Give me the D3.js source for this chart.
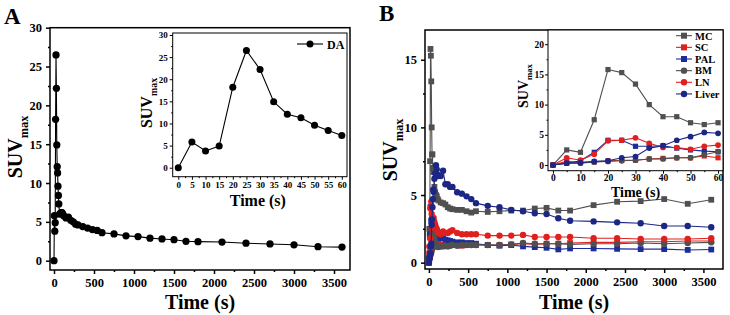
<!DOCTYPE html>
<html>
<head>
<meta charset="utf-8">
<script src="https://cdn.jsdelivr.net/npm/d3@7"></script>
<style>
  body { margin: 0; background: #fff; }
  svg text { font-family: "Liberation Serif", "Times New Roman", serif; font-weight: bold; fill: #000; }
</style>
</head>
<body>
<svg id="chart" width="730" height="315"></svg>
<script>
// sampling times (s)
const timeEarly = [0, 5, 10, 15, 20, 25, 30, 35, 40, 45, 50, 55, 60];
const timeMid = [70, 80, 90, 100, 110, 120, 150, 180, 210, 240, 270, 300, 360, 420, 480, 540, 600];
const timeLate = [750, 900, 1050, 1200, 1350, 1500, 1650, 1800, 2100, 2400, 2700, 3000, 3300, 3600];
const times = timeEarly.concat(timeMid, timeLate);

// panel A: DA
const daValues = [0, 5.8, 3.8, 4.9, 18.2, 26.5, 22.2, 14.9, 12.1, 11.3, 9.6, 8.4, 7.3,
  6.0, 6.1, 6.2, 6.2, 6.0, 5.8, 5.5, 5.6, 5.2, 5.0, 4.7, 4.6, 4.4, 4.2, 4.0, 3.9, 3.6,
  3.45, 3.2, 3.1, 2.9, 2.8, 2.7, 2.5, 2.45, 2.4, 2.25, 2.15, 2.05, 1.8, 1.75];

// panel B: tissues
const mcValues = [0, 2.5, 2.1, 7.5, 15.8, 15.3, 13.4, 10.0, 8.0, 8.0, 7.0, 6.7, 7.0,
  5.6, 5.2, 5.0, 4.9, 4.7, 4.6, 4.45, 4.4, 4.3, 4.1, 4.0, 3.95, 3.9, 3.9, 3.8, 3.7, 3.8,
  3.75, 3.8, 3.85, 3.85, 4.0, 4.05, 3.85, 3.85, 4.25, 4.5, 4.55, 4.7, 4.35, 4.65];
const scValues = [0, 0.6, 0.4, 0.5, 0.7, 0.8, 0.8, 1.0, 1.1, 1.2, 1.2, 1.5, 1.2,
  1.3, 1.45, 1.5, 1.4, 1.35, 1.4, 1.3, 1.25, 1.3, 1.3, 1.35, 1.3, 1.3, 1.25, 1.3, 1.35, 1.3,
  1.3, 1.3, 1.35, 1.4, 1.35, 1.4, 1.4, 1.45, 1.5, 1.5, 1.55, 1.55, 1.6, 1.6];
const palValues = [0, 0.3, 0.7, 2.1, 4.1, 4.1, 3.1, 3.1, 3.2, 2.8, 2.5, 2.3, 2.2,
  1.9, 1.8, 1.9, 2.0, 1.9, 1.85, 1.8, 1.8, 1.7, 1.65, 1.6, 1.55, 1.5, 1.5, 1.45, 1.45, 1.4,
  1.3, 1.25, 1.3, 1.2, 1.15, 1.1, 0.98, 1.05, 1.05, 1.02, 1.0, 1.0, 0.94, 0.97];
const bmValues = [0, 0.3, 0.3, 0.5, 0.6, 0.7, 0.8, 1.0, 1.0, 1.2, 1.2, 1.7, 2.2,
  1.8, 1.5, 1.3, 1.2, 1.2, 1.15, 1.2, 1.2, 1.25, 1.2, 1.25, 1.3, 1.25, 1.3, 1.3, 1.3, 1.3,
  1.3, 1.3, 1.35, 1.45, 1.4, 1.4, 1.4, 1.35, 1.4, 1.4, 1.45, 1.4, 1.45, 1.5];
const lnValues = [0, 1.2, 0.8, 1.8, 4.0, 4.1, 4.5, 3.6, 2.9, 2.9, 2.6, 3.1, 3.3,
  3.0, 2.8, 2.6, 2.5, 2.3, 2.2, 2.1, 2.3, 2.2, 2.2, 2.3, 2.4, 2.2, 2.1, 2.1, 2.1, 2.1,
  2.0, 2.0, 2.0, 2.05, 1.9, 1.9, 1.9, 1.9, 1.8, 1.8, 1.75, 1.75, 1.75, 1.8];
const liverValues = [0, 0.3, 0.4, 0.6, 0.7, 1.2, 1.4, 2.8, 3.2, 4.1, 4.7, 5.4, 5.25,
  6.2, 6.6, 7.2, 6.9, 6.5, 6.4, 6.4, 6.8, 5.8, 5.8, 5.6, 5.6, 5.2, 5.1, 4.9, 4.7, 4.4,
  4.2, 4.1, 3.9, 3.8, 3.65, 3.6, 3.28, 3.1, 3.05, 2.98, 2.91, 2.71, 2.71, 2.62];

const tissueNames = ["MC", "SC", "PAL", "BM", "LN", "Liver"];
const tissueValues = [mcValues, scValues, palValues, bmValues, lnValues, liverValues];
const tissueColors = ["#505050", "#e0201e", "#1c2c9a", "#505050", "#e0201e", "#1c2684"];
const tissueShapes = ["square", "square", "square", "circle", "circle", "circle"];

const mainTicksX = [0, 500, 1000, 1500, 2000, 2500, 3000, 3500];
const ticksA = [0, 5, 10, 15, 20, 25, 30];
const ticksInsetAX = [0, 5, 10, 15, 20, 25, 30, 35, 40, 45, 50, 55, 60];
const ticksB = [0, 5, 10, 15];
const ticksInsetBX = [0, 10, 20, 30, 40, 50, 60];
const ticksInsetBY = [0, 5, 10, 15, 20];

const svg = d3.select("#chart");

function drawAxes(g, x, y, o) {
    const [x0, x1] = x.range();
    const [y0, y1] = y.range();
    g.append("rect")
        .attr("x", x0).attr("y", y1)
        .attr("width", x1 - x0).attr("height", y0 - y1)
        .attr("fill", "#fff").attr("stroke", "none");

    const minorX = o.xTicks.slice(0, -1).map((t, i) => (t + o.xTicks[i + 1]) / 2);
    const minorY = o.yTicks.slice(0, -1).map((t, i) => (t + o.yTicks[i + 1]) / 2);
    minorX.push(o.xTicks[o.xTicks.length - 1] + (o.xTicks[1] - o.xTicks[0]) / 2);

    const bottom = g.append("g").attr("transform", `translate(0,${y0})`)
        .call(d3.axisBottom(x).tickValues(o.xTicks).tickSize(o.tick).tickSizeOuter(0).tickPadding(o.pad).tickFormat(d3.format("d")));
    const bottomMinor = g.append("g").attr("transform", `translate(0,${y0})`)
        .call(d3.axisBottom(x).tickValues(minorX.filter(v => v < x.domain()[1])).tickSize(o.tick / 2).tickFormat(""));
    const left = g.append("g").attr("transform", `translate(${x0},0)`)
        .call(d3.axisLeft(y).tickValues(o.yTicks).tickSize(o.tick).tickSizeOuter(0).tickPadding(o.pad).tickFormat(d3.format("d")));
    const leftMinor = g.append("g").attr("transform", `translate(${x0},0)`)
        .call(d3.axisLeft(y).tickValues(minorY).tickSize(o.tick / 2).tickFormat(""));

    [bottom, bottomMinor, left, leftMinor].forEach(a => {
        a.select(".domain").remove();
        a.selectAll("line").attr("stroke", "#000").attr("stroke-width", o.stroke);
        a.selectAll("text").style("font-size", o.tickFont + "px").style("font-family", "Liberation Serif").style("font-weight", "bold").attr("fill", "#000");
    });

    g.append("rect")
        .attr("x", x0).attr("y", y1)
        .attr("width", x1 - x0).attr("height", y0 - y1)
        .attr("fill", "none").attr("stroke", "#000").attr("stroke-width", o.stroke);

    g.append("text")
        .attr("x", (x0 + x1) / 2 + o.xTitleDx).attr("y", o.xTitleY)
        .attr("text-anchor", "middle")
        .style("font-size", o.titleFont + "px")
        .text("Time (s)");

    const yt = g.append("text")
        .attr("transform", `translate(${o.yTitleX},${o.yTitleY}) rotate(-90)`)
        .attr("text-anchor", "middle")
        .style("font-size", o.titleFont + "px");
    yt.append("tspan").text("SUV");
    yt.append("tspan").attr("dy", o.titleFont * 0.3).style("font-size", (o.titleFont * 0.62) + "px").text("max");
}

function drawSeries(g, x, y, xs, ys, color, shape, size, clipMax) {
    const pts = xs.map((t, i) => [t, ys[i]]).filter(d => d[0] <= clipMax);
    const line = d3.line().x(d => x(d[0])).y(d => y(d[1]));
    g.append("path").datum(pts)
        .attr("d", line).attr("fill", "none")
        .attr("stroke", color).attr("stroke-width", 1.1);
    if (shape === "square") {
        g.selectAll(null).data(pts).enter().append("rect")
            .attr("x", d => x(d[0]) - size).attr("y", d => y(d[1]) - size)
            .attr("width", size * 2).attr("height", size * 2)
            .attr("fill", color);
    } else {
        g.selectAll(null).data(pts).enter().append("circle")
            .attr("cx", d => x(d[0])).attr("cy", d => y(d[1]))
            .attr("r", size * 1.1)
            .attr("fill", color);
    }
}

// ---------- panel A ----------
const gA = svg.append("g");
const xA = d3.scaleLinear().domain([-50, 3700]).range([50, 350]);
const yA = d3.scaleLinear().domain([-1.2, 30]).range([270, 27.7]);
drawAxes(gA, xA, yA, {
    xTicks: mainTicksX, yTicks: ticksA, tick: 4, pad: 4, stroke: 1.5,
    tickFont: 12.5, titleFont: 20, xTitleY: 309, xTitleDx: 0, yTitleX: 22, yTitleY: 147
});
drawSeries(gA, xA, yA, times, daValues, "#000", "circle", 3.3, 4000);

const xAi = d3.scaleLinear().domain([-2.05, 61.9]).range([172.7, 347]);
const yAi = d3.scaleLinear().domain([-2.03, 30.45]).range([176.7, 33]);
const gAi = svg.append("g");
drawAxes(gAi, xAi, yAi, {
    xTicks: ticksInsetAX, yTicks: ticksA, tick: 3, pad: 2, stroke: 1,
    tickFont: 9, titleFont: 16, xTitleY: 206, xTitleDx: -2, yTitleX: 152, yTitleY: 103
});
drawSeries(gAi, xAi, yAi, times, daValues, "#000", "circle", 3.2, 60);

// legend A
const legA = svg.append("g").attr("transform", "translate(297,44)");
legA.append("line").attr("x1", 0).attr("x2", 26).attr("stroke", "#000").attr("stroke-width", 1.1);
legA.append("circle").attr("cx", 13).attr("r", 3.5).attr("fill", "#000");
legA.append("text").attr("x", 30).attr("y", 4.5).style("font-size", "12px").text("DA");

svg.append("text").attr("x", 4).attr("y", 24).style("font-size", "23px").text("A");

// ---------- panel B ----------
const gB = svg.append("g");
const xB = d3.scaleLinear().domain([-50, 3750]).range([425, 723]);
const yB = d3.scaleLinear().domain([-0.47, 17.2]).range([269, 30]);
drawAxes(gB, xB, yB, {
    xTicks: mainTicksX, yTicks: ticksB, tick: 4, pad: 4, stroke: 1.5,
    tickFont: 12.5, titleFont: 20, xTitleY: 309, xTitleDx: 0, yTitleX: 397, yTitleY: 150
});
tissueValues.forEach((vals, i) => {
    drawSeries(gB, xB, yB, times, vals, tissueColors[i], tissueShapes[i], 2.9, 4000);
});

const xBi = d3.scaleLinear().domain([-1.8, 61.8]).range([548, 723]);
const yBi = d3.scaleLinear().domain([-0.94, 22.35]).range([170.7, 30]);
const gBi = svg.append("g");
drawAxes(gBi, xBi, yBi, {
    xTicks: ticksInsetBX, yTicks: ticksInsetBY, tick: 3, pad: 1, stroke: 1,
    tickFont: 9.5, titleFont: 14, xTitleY: 196.5, xTitleDx: 0, yTitleX: 528, yTitleY: 86
});
tissueValues.forEach((vals, i) => {
    drawSeries(gBi, xBi, yBi, times, vals, tissueColors[i], tissueShapes[i], 2.6, 60);
});

// legend B
tissueNames.forEach((name, i) => {
    const lg = svg.append("g").attr("transform", `translate(676,${35.7 + i * 11.65})`);
    lg.append("line").attr("x1", 0).attr("x2", 16).attr("stroke", tissueColors[i]).attr("stroke-width", 1.1);
    if (tissueShapes[i] === "square") {
        lg.append("rect").attr("x", 5).attr("y", -3).attr("width", 6).attr("height", 6).attr("fill", tissueColors[i]);
    } else {
        lg.append("circle").attr("cx", 8).attr("r", 3.2).attr("fill", tissueColors[i]);
    }
    lg.append("text").attr("x", 19).attr("y", 3.8).style("font-size", "10.5px").text(name);
});

svg.append("text").attr("x", 379).attr("y", 21).style("font-size", "23px").text("B");
</script>
</body>
</html>
